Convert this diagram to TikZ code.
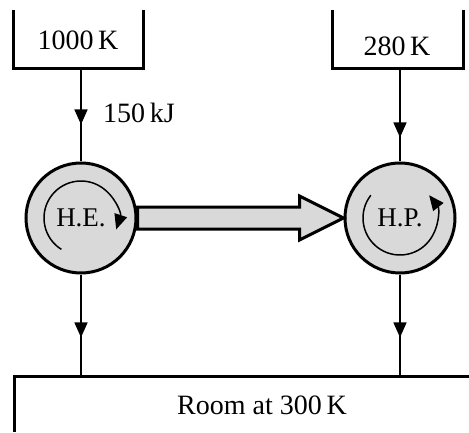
\documentclass[tikz,border=0pt]{standalone}
\usepackage{fontspec}
\setmainfont{Liberation Serif}
\usetikzlibrary{shapes,arrows.meta,positioning,decorations.markings}
\tikzstyle{Wall} = [draw, line width=3pt]
\tikzstyle{Label} = [font=\fontsize{28}{32}\selectfont, inner sep=0pt]
\tikzstyle{Machine} = [draw, circle, line width=3pt, fill=gray!30, minimum size=110pt, font=\fontsize{27}{32}\selectfont]
\tikzstyle{Cycle} = [line width=1.5pt, -{Triangle[length=15pt,width=13pt]}]
\tikzstyle{Work} = [draw, line width=3pt, fill=gray!30, line join=miter]
\tikzset{Flow/.style={draw, line width=1.5pt, postaction={decorate},
  decoration={markings, mark=at position #1 with {\arrow{Triangle[length=15pt,width=13pt]}}}}}

\begin{document}
\begin{tikzpicture}[x=1pt,y=1pt]
    \useasboundingbox (0,0) rectangle (469,432);
    % reservoirs
    \node[Label] (hot)  at (78,392)  {1000\,K};
    \node[Label] (cold) at (397,386) {280\,K};
    \node[Label] (room) at (262,27)  {Room at 300\,K};
    \draw[Wall] (13,422) |- (143,363) -- (143,422);
    \draw[Wall] (332,422) |- (463,363) -- (463,422);
    \draw[Wall] (14,0) |- (469,56);
    \coordinate (hotbase)  at (81,363);
    \coordinate (coldbase) at (400,363);
    \coordinate (heroom)   at (81,56);
    \coordinate (hproom)   at (400,56);
    % machines
    \node[Machine] (he) at (81,214)  {H.E.};
    \node[Machine] (hp) at (400,214) {H.P.};
    \draw[Cycle] ([shift={(238:37)}]he.center) arc[start angle=238, end angle=-18, radius=37];
    \draw[Cycle] ([shift={(142:37)}]hp.center) arc[start angle=142, end angle=398, radius=37];
    % heat flows
    \draw[Flow=0.6]  (hotbase)  -- (he);
    \draw[Flow=0.74] (coldbase) -- (hp);
    \draw[Flow=0.62] (he)       -- (heroom);
    \draw[Flow=0.62] (hp)       -- (hproom);
    \node[Label, anchor=west] (qh) at (103,319) {150\,kJ};
    % work
    \draw[Work] ([yshift=11pt]he.east) -- ++(162,0) -- ++(0,11) -- (hp.west)
        -- ++(-44,-22) -- ++(0,11) -- ([yshift=-11pt]he.east) -- cycle;
\end{tikzpicture}
\end{document}
